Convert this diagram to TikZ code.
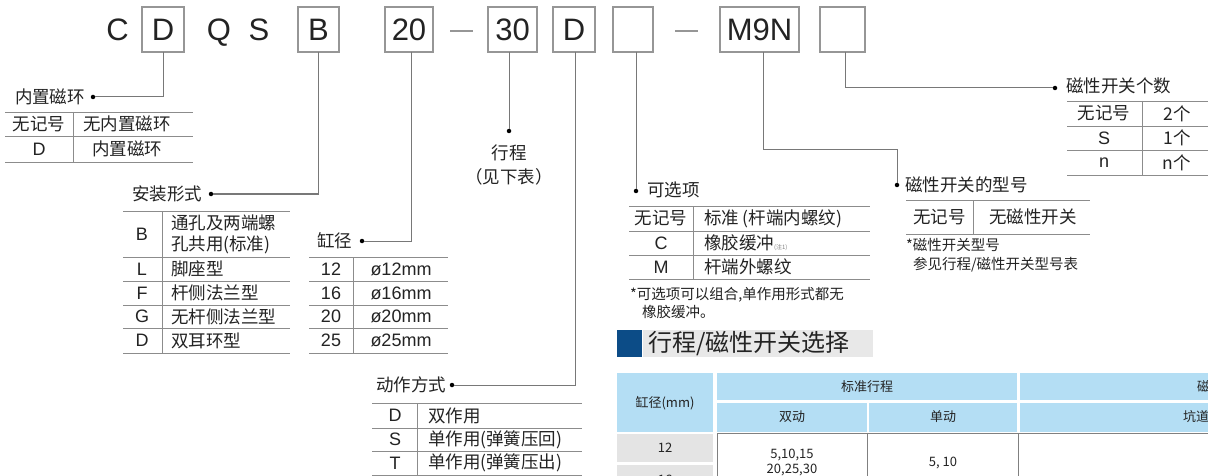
\documentclass[tikz,border=0pt]{standalone}
\usepackage{fontspec}
\setmainfont{Liberation Sans}
\newfontfamily\cjk{Noto Sans CJK SC}
\definecolor{txt}{RGB}{35,35,35}
\definecolor{boxgray}{RGB}{150,150,150}
\definecolor{linegray}{RGB}{120,120,120}
\definecolor{tabgray}{RGB}{140,140,140}
\definecolor{hdrblue}{RGB}{180,222,244}
\definecolor{cellgray}{RGB}{228,228,228}
\definecolor{sqblue}{RGB}{12,76,135}
\definecolor{bandgray}{RGB}{232,232,232}
\begin{document}
\begin{tikzpicture}[x=1pt,y=-1pt,
  every node/.style={inner sep=0pt,outer sep=0pt,text=txt},
  codebox/.style={draw=boxgray,line width=1.1pt,minimum height=45pt,inner sep=0pt,font=\fontsize{31}{31}\selectfont},
  codeletter/.style={font=\fontsize{31}{31}\selectfont,anchor=base},
  conn/.style={draw=linegray,line width=1pt},
  dotnode/.style={circle,fill=black,minimum size=4.5pt,inner sep=0pt},
  tline/.style={draw=tabgray,line width=0.9pt},
  zh/.style={font=\cjk\fontsize{17.5}{21}\selectfont},
  lat/.style={font=\fontsize{18}{21}\selectfont},
  note/.style={font=\cjk\fontsize{14.5}{17}\selectfont},
  small/.style={font=\cjk\fontsize{13}{15}\selectfont}
]
\useasboundingbox (0,0) rectangle (1208,476);
\begin{scope}
\clip (0,0) rectangle (1208,476);
\fill[white] (0,0) rectangle (1208,476);

% ---- code row ----
\node[codeletter] (lC) at (117.5,41) {C};
\node[codebox,minimum width=42pt] (bD) at (163,29.5) {D};
\node[codeletter] (lQ) at (219,41) {Q};
\node[codeletter] (lS) at (259,41) {S};
\node[codebox,minimum width=41pt] (bB) at (318.5,29.5) {B};
\node[codebox,minimum width=48pt] (b20) at (409,29.5) {20};
\draw[draw=boxgray,line width=1.1pt] (450,31) -- (473,31);
\node[codebox,minimum width=49pt] (b30) at (512.5,29.5) {30};
\node[codebox,minimum width=42pt] (bD2) at (574,29.5) {D};
\node[codebox,minimum width=40pt] (bE1) at (633,29.5) {};
\draw[draw=boxgray,line width=1.1pt] (675,31) -- (698,31);
\node[codebox,minimum width=79pt] (bM) at (759.5,29.5) {M9N};
\node[codebox,minimum width=45pt] (bE2) at (842.5,29.5) {};

% ---- dots ----
\node[dotnode] (d1) at (93,97) {};
\node[dotnode] (d2) at (211,194) {};
\node[dotnode] (d3) at (362,241) {};
\node[dotnode] (d4) at (509,131) {};
\node[dotnode] (d5) at (452,385) {};
\node[dotnode] (d6) at (636,191) {};
\node[dotnode] (d7) at (897,185) {};
\node[dotnode] (d8) at (1055,88) {};
\coordinate (cM) at (897,150);

% ---- connectors ----
\draw[conn] (bD.south) |- (d1);
\draw[conn] (bB.south) |- (d2);
\draw[conn] ([xshift=2pt]b20.south) |- (d3);
\draw[conn] ([xshift=-3.5pt]b30.south) -- (d4);
\draw[conn] ([xshift=1pt]bD2.south) |- (d5);
\draw[conn] ([xshift=3pt]bE1.south) -- (d6);
\draw[conn] ([xshift=3.5pt]bM.south) |- (cM) -- (d7);
\draw[conn] ([xshift=2.5pt]bE2.south) |- (d8);

% ---- 内置磁环 ----
\node[zh,anchor=east] (t1) at (85,97) {内置磁环};
\draw[tline] (5,112) -- (193,112) (5,136) -- (193,136) (5,162) -- (193,162);
\draw[tline] (73,112) -- (73,162);
\node[zh] (t1a) at (39,124) {无记号};
\node[zh] (t1b) at (127,124) {无内置磁环};
\node[lat] (t1c) at (39,149) {D};
\node[zh] (t1d) at (127,149) {内置磁环};

% ---- 安装形式 ----
\node[zh,anchor=east] (t2) at (202,194) {安装形式};
\foreach \yy in {211,257,281,305,328,353} \draw[tline] (123,\yy) -- (290,\yy);
\draw[tline] (162,211) -- (162,353);
\node[lat] (t2a) at (142,234) {B};
\node[zh,anchor=west] (t2b) at (171,223) {通孔及两端螺};
\node[zh,anchor=west] (t2c) at (171,245) {孔共用(标准)};
\node[lat] (t2d) at (142,269) {L};
\node[zh,anchor=west] (t2e) at (171,269) {脚座型};
\node[lat] (t2f) at (142,293) {F};
\node[zh,anchor=west] (t2g) at (171,293) {杆侧法兰型};
\node[lat] (t2h) at (142,316.5) {G};
\node[zh,anchor=west] (t2i) at (171,316.5) {无杆侧法兰型};
\node[lat] (t2j) at (142,340.5) {D};
\node[zh,anchor=west] (t2k) at (171,340.5) {双耳环型};

% ---- 缸径 ----
\node[zh,anchor=east] (t3) at (352,241) {缸径};
\foreach \yy in {257,281,305,328,353} \draw[tline] (309,\yy) -- (448,\yy);
\draw[tline] (353,257) -- (353,353);
\foreach \yy/\n in {269/12,293/16,316.5/20,340.5/25} {
  \node[lat] at (331,\yy) {\n};
  \node[lat] at (401,\yy) {ø\n mm};
}

% ---- 行程 ----
\node[zh] (t4) at (509,153) {行程};
\node[zh] (t4b) at (509,177) {（见下表）};

% ---- 动作方式 ----
\node[zh,anchor=east] (t5) at (446,385) {动作方式};
\foreach \yy in {403,428,451,475} \draw[tline] (372,\yy) -- (582,\yy);
\draw[tline] (417,403) -- (417,476);
\node[lat] (t5a) at (395,415.5) {D};
\node[zh,anchor=west] (t5b) at (428,415.5) {双作用};
\node[lat] (t5c) at (395,439.5) {S};
\node[zh,anchor=west] (t5d) at (428,439.5) {单作用(弹簧压回)};
\node[lat] (t5e) at (395,463) {T};
\node[zh,anchor=west] (t5f) at (428,463) {单作用(弹簧压出)};

% ---- 可选项 ----
\node[zh,anchor=west] (t6) at (647,190) {可选项};
\foreach \yy in {206,231,255,279} \draw[tline] (629,\yy) -- (870,\yy);
\draw[tline] (693,206) -- (693,279);
\node[zh] (t6a) at (661,218.5) {无记号};
\node[zh,anchor=west] (t6b) at (704,218.5) {标准 (杆端内螺纹)};
\node[lat] (t6c) at (661,243) {C};
\node[zh,anchor=west] (t6d) at (704,243) {橡胶缓冲{\fontsize{6}{6}\selectfont\color{gray}(注1)}};
\node[lat] (t6e) at (661,267) {M};
\node[zh,anchor=west] (t6f) at (704,267) {杆端外螺纹};
\node[note,anchor=west] (t6g) at (630,295) {*可选项可以组合,单作用形式都无};
\node[note,anchor=west] (t6h) at (642,312) {橡胶缓冲。};

% ---- 磁性开关的型号 ----
\node[zh,anchor=west] (t7) at (905,185) {磁性开关的型号};
\draw[tline] (906,200) -- (1090,200) (906,234) -- (1090,234);
\draw[tline] (973,200) -- (973,234);
\node[zh] (t7a) at (939.5,217) {无记号};
\node[zh] (t7b) at (1033,217) {无磁性开关};
\node[note,anchor=west] (t7c) at (906,245) {*磁性开关型号};
\node[note,anchor=west] (t7d) at (913,265) {参见行程/磁性开关型号表};

% ---- 磁性开关个数 ----
\node[zh,anchor=west] (t8) at (1066,86) {磁性开关个数};
\foreach \yy in {101,126,150,175} \draw[tline] (1067,\yy) -- (1208,\yy);
\draw[tline] (1142,101) -- (1142,175);
\node[zh] (t8a) at (1104,113.5) {无记号};
\node[zh] (t8b) at (1177,113.5) {2个};
\node[lat] (t8c) at (1104,138) {S};
\node[zh] (t8d) at (1177,138) {1个};
\node[lat] (t8e) at (1104,162.5) {n};
\node[zh] (t8f) at (1177,162.5) {n个};

% ---- section header ----
\fill[sqblue] (617,330) rectangle (642,357);
\fill[bandgray] (643,330) rectangle (873,357);
\node[font=\cjk\fontsize{24}{26}\selectfont,anchor=west] (hdr) at (648,343.5) {行程/磁性开关选择};

% ---- bottom table ----
\fill[hdrblue] (617,373) rectangle (713,432);
\fill[hdrblue] (717,373) rectangle (1017,400);
\fill[hdrblue] (717,402.5) rectangle (866.5,432);
\fill[hdrblue] (869,402.5) rectangle (1017,432);
\fill[hdrblue] (1020,373) rectangle (1208,400);
\fill[hdrblue] (1020,402.5) rectangle (1208,432);
\fill[cellgray] (617,434) rectangle (713,462);
\fill[cellgray] (617,465) rectangle (713,480);
\draw[tline,draw=gray] (717,433) -- (1208,433);
\draw[tline,draw=gray] (717,433) -- (717,476) (867,433) -- (867,476) (1018,433) -- (1018,476);
\node[small] (h1) at (665,403) {缸径(mm)};
\node[small] (h2) at (867,387) {标准行程};
\node[small] (h3) at (792,417) {双动};
\node[small] (h4) at (943,417) {单动};
\node[small,anchor=west] (h5) at (1197,387) {磁性开关};
\node[small,anchor=west] (h6) at (1183,417) {坑道安装};
\node[small] (r1) at (665,448) {12};
\node[small] (r2) at (665,480) {16};
\node[small] (v1) at (792,455) {5,10,15};
\node[small] (v2) at (792,470) {20,25,30};
\node[small] (v3) at (943,463) {5, 10};
\end{scope}
\end{tikzpicture}
\end{document}
